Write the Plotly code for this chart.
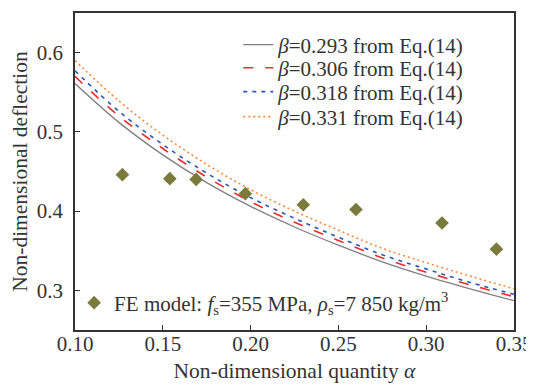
import plotly.graph_objects as go

alpha = [0.100, 0.125, 0.150, 0.175, 0.200, 0.225, 0.250, 0.275, 0.300, 0.325, 0.350]
defl_b0293 = [0.561, 0.512, 0.471, 0.436, 0.406, 0.380, 0.357, 0.336, 0.318, 0.302, 0.287]
defl_b0306 = [0.570, 0.520, 0.479, 0.443, 0.412, 0.386, 0.363, 0.341, 0.323, 0.307, 0.292]
defl_b0318 = [0.577, 0.526, 0.484, 0.448, 0.417, 0.391, 0.367, 0.345, 0.327, 0.310, 0.295]
defl_b0331 = [0.590, 0.539, 0.496, 0.459, 0.427, 0.400, 0.376, 0.353, 0.335, 0.318, 0.302]

fe_alpha = [0.127, 0.154, 0.169, 0.197, 0.230, 0.260, 0.309, 0.340]
fe_defl = [0.446, 0.441, 0.440, 0.422, 0.408, 0.402, 0.385, 0.352]

series = [
    ("0.293", defl_b0293, "#808080", "solid", 1.3, "legend", 0.899),
    ("0.306", defl_b0306, "#ee2b2b", "10px,12px", 1.6, "legend3", 0.826),
    ("0.318", defl_b0318, "#2a58b4", "4px,5px", 1.6, "legend4", 0.751),
    ("0.331", defl_b0331, "#fa8a3c", "2px,3px", 1.6, "legend5", 0.672),
]

FONT = "Liberation Serif, Times New Roman, serif"
TXT = "#333"
FS = 21

fig = go.Figure()
legends = {}
for beta, vals, color, dash, w, lg, ly in series:
    fig.add_trace(go.Scatter(
        x=alpha, y=vals, mode="lines", line=dict(color=color, dash=dash, width=w, shape="spline"),
        name=f"<i>β</i>=" + beta + " from Eq.(14)", legend=lg,
    ))
    legends[lg] = dict(x=0.372, y=ly, xanchor="left", yanchor="middle", bgcolor="rgba(0,0,0,0)",
                       font=dict(family=FONT, size=FS, color=TXT))

fig.add_trace(go.Scatter(
    x=fe_alpha, y=fe_defl, mode="markers",
    marker=dict(symbol="diamond", size=10.5, color="#7a7a3c"),
    name="FE model: <i>f</i><sub>s</sub>=355 MPa, <i>ρ</i><sub>s</sub>=7 850 kg/m<sup>3</sup>",
    legend="legend2",
))
legends["legend2"] = dict(x=-0.002, y=0.085, xanchor="left", yanchor="middle", bgcolor="rgba(0,0,0,0)",
                          font=dict(family=FONT, size=FS, color=TXT))

axis_common = dict(
    showline=True, linecolor="#333", linewidth=1.5, mirror=True,
    ticks="inside", ticklen=5, tickwidth=1.2, tickcolor="#333",
    showgrid=False, zeroline=False, automargin=False,
    tickfont=dict(family=FONT, size=FS, color=TXT),
)

# the page body adds an 8px offset, so margins are set to place the plot area
fig.update_layout(
    width=534, height=385,
    margin=dict(l=67, r=28, t=5, b=63),
    plot_bgcolor="white", paper_bgcolor="white",
    font=dict(family=FONT, size=FS, color=TXT),
    xaxis=dict(range=[0.10, 0.35], tickvals=[0.10, 0.15, 0.20, 0.25, 0.30, 0.35],
               tickformat=".2f", ticklabelstandoff=-6,
               title=dict(text="Non-dimensional quantity <i>α</i>", font=dict(family=FONT, size=21.5, color=TXT), standoff=8),
               **axis_common),
    yaxis=dict(range=[0.25, 0.65], tickvals=[0.3, 0.4, 0.5, 0.6], tickformat=".1f",
               ticklabelstandoff=6,
               title=dict(text="Non-dimensional deflection", font=dict(family=FONT, size=21.5, color=TXT), standoff=5),
               **axis_common),
    showlegend=True,
    **legends,
)

fig.write_html("out.html")
